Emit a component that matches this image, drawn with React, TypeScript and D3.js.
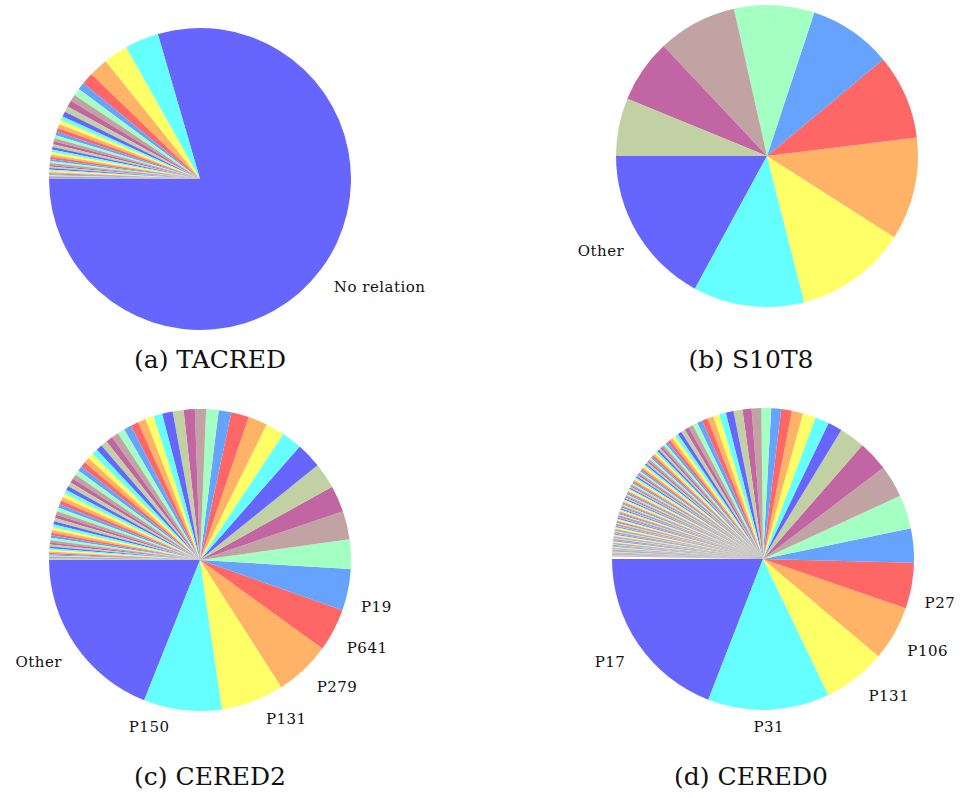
import React from "react";
import * as d3 from "d3";

// Colour cycle used by every pie (10 colours, repeated)
const palette = [
  "#6666ff", "#66ffff", "#ffff66", "#ffb366", "#ff6666",
  "#66a3ff", "#a3ffc2", "#c2a3a3", "#c266a3", "#c2d1a3",
];

// (a) TACRED — relation counts, sorted descending
const tacredLabels = ["No relation"];
const tacredValues = [
  84491, 3862, 2770, 2163, 1359, 833, 819, 753, 742, 667, 573, 484, 483, 453,
  444, 394, 350, 347, 337, 319, 296, 286, 280, 268, 250, 229, 227, 223, 171,
  166, 153, 153, 144, 125, 121, 104, 103, 103, 72, 61, 53, 33,
];

// (b) S10T8 — share of examples (%)
const s10t8Labels = ["Other"];
const s10t8Values = [17.1, 11.9, 12.0, 11.0, 9.1, 8.9, 8.6, 8.5, 6.8, 6.2];

// (c) CERED2 — share of examples (%)
const cered2Labels = ["Other", "P150", "P131", "P279", "P641", "P19"];
const cered2Values = [
  18.97, 8.36, 6.72, 5.97, 4.58, 4.44, 3.14, 3.03, 2.83, 2.75,
  2.72, 2.19, 2.03, 2.03, 1.89, 1.36, 1.33, 1.19, 1.19, 1.17,
  1.14, 0.94, 0.89, 0.86, 0.83, 0.81, 0.78, 0.75, 0.72, 0.69,
  0.67, 0.64, 0.61, 0.58, 0.56, 0.54, 0.53, 0.50, 0.47, 0.46,
  0.44, 0.43, 0.42, 0.42, 0.40, 0.39, 0.39, 0.38, 0.36, 0.35,
  0.33, 0.32, 0.31, 0.29, 0.28, 0.26, 0.25, 0.24, 0.22, 0.21,
  0.19, 0.18, 0.17, 0.15, 0.14, 0.13, 0.11, 0.10, 0.08, 0.07,
  0.06, 0.03, 0.01, 0.01,
];

// (d) CERED0 — share of examples (%), sums to slightly under 100
const cered0Labels = ["P17", "P31", "P131", "P106", "P27"];
const cered0Values = [
  19.1, 13.03, 6.72, 5.86, 4.89, 3.67, 3.61, 3.44, 3.25, 2.75,
  1.53, 1.5, 1.39, 1.19, 1.14, 1.06, 1.05, 1.03, 0.97, 0.96,
  0.83, 0.72, 0.67, 0.64, 0.61, 0.56, 0.53, 0.50, 0.47, 0.44,
  0.42, 0.375, 0.35, 0.32, 0.305, 0.28, 0.265, 0.25, 0.235, 0.22,
  0.21, 0.205, 0.203, 0.2, 0.197, 0.194, 0.192, 0.189, 0.186, 0.183,
  0.18, 0.178, 0.175, 0.172, 0.169, 0.167, 0.164, 0.161, 0.158, 0.156,
  0.153, 0.15, 0.147, 0.144, 0.142, 0.139, 0.136, 0.133,
  0.131, 0.13, 0.129, 0.128, 0.128, 0.127, 0.126, 0.125, 0.124, 0.123,
  0.121, 0.12, 0.119, 0.118, 0.117, 0.116, 0.115, 0.114, 0.113, 0.112,
  0.11, 0.109, 0.108, 0.107, 0.106, 0.105, 0.104, 0.103, 0.102, 0.101,
  0.099, 0.098, 0.097, 0.096, 0.095, 0.094, 0.093, 0.092, 0.091, 0.09,
  0.088, 0.087, 0.086, 0.085, 0.084, 0.083, 0.082, 0.081, 0.08, 0.079,
  0.077, 0.076, 0.075, 0.075, 0.074, 0.073, 0.072, 0.071, 0.07, 0.069,
  0.068, 0.067, 0.066, 0.065, 0.064, 0.063, 0.062, 0.061, 0.06, 0.059,
  0.057, 0.056, 0.055, 0.054, 0.053, 0.052, 0.051, 0.05, 0.049, 0.048,
  0.046, 0.044, 0.043, 0.042, 0.041, 0.04, 0.039, 0.038, 0.037, 0.036,
  0.034, 0.032, 0.03, 0.028, 0.026, 0.024, 0.022, 0.02, 0.018, 0.015,
];

const captions = ["(a) TACRED", "(b) S10T8", "(c) CERED2", "(d) CERED0"];

const SERIF = "'DejaVu Serif', serif";

type PanelProps = {
  cx: number;
  cy: number;
  r: number;
  values: number[];
  labels: string[];
  caption: string;
  capX: number;
  capY: number;
  partial?: boolean;
};

function PiePanel({ cx, cy, r, values, labels, caption, capX, capY, partial }: PanelProps) {
  const total = d3.sum(values);
  const coverage = partial ? Math.min(1, total / 100) : 1;
  const start = -Math.PI / 2; // 9 o'clock
  const pie = d3
    .pie<number>()
    .sort(null)
    .value((d) => d)
    .startAngle(start)
    .endAngle(start - 2 * Math.PI * coverage); // counter-clockwise
  const arcs = pie(values);
  const arc = d3.arc<d3.PieArcDatum<number>>().innerRadius(0).outerRadius(r);

  return (
    <g>
      <g transform={`translate(${cx},${cy})`}>
        {arcs.map((a, i) => (
          <path key={i} d={arc(a) || ""} fill={palette[i % palette.length]} />
        ))}
      </g>
      {labels.map((lab, i) => {
        const a = arcs[i];
        const mid = (a.startAngle + a.endAngle) / 2;
        const sx = Math.sin(mid);
        const sy = -Math.cos(mid);
        const centred = Math.abs(sx) < 0.05;
        const x = cx + r * sx + (centred ? 0 : 13 * Math.sign(sx));
        const y = cy + r * sy + 22.5;
        return (
          <text
            key={lab}
            x={x}
            y={y}
            textAnchor={centred ? "middle" : sx > 0 ? "start" : "end"}
            fontFamily={SERIF}
            fontSize={15}
            letterSpacing={0.5}
            fill="#111"
          >
            {lab}
          </text>
        );
      })}
      <text
        x={capX}
        y={capY}
        textAnchor="middle"
        fontFamily={SERIF}
        fontSize={25}
        fill="#111"
      >
        {caption}
      </text>
    </g>
  );
}

export default function App() {
  return (
    <svg
      width={962}
      height={798}
      style={{ position: "absolute", left: 0, top: 0, background: "#fff" }}
    >
      <PiePanel cx={200} cy={179} r={151} values={tacredValues} labels={tacredLabels}
        caption={captions[0]} capX={210} capY={368} />
      <PiePanel cx={767} cy={156} r={151} values={s10t8Values} labels={s10t8Labels}
        caption={captions[1]} capX={751} capY={368} />
      <PiePanel cx={200} cy={560} r={151} values={cered2Values} labels={cered2Labels}
        caption={captions[2]} capX={210} capY={785} />
      <PiePanel cx={763} cy={559} r={151} values={cered0Values} labels={cered0Labels}
        caption={captions[3]} capX={751} capY={785} partial />
    </svg>
  );
}
